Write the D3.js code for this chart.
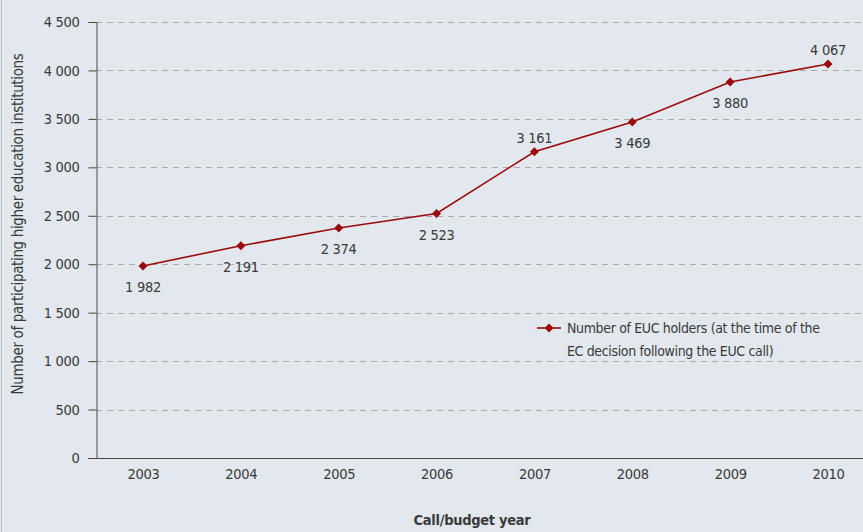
<!DOCTYPE html>
<html>
<head>
<meta charset="utf-8">
<script src="https://cdn.jsdelivr.net/npm/d3@7"></script>
<style>
  html, body { margin: 0; padding: 0; background: #e2e8ee; }
  svg { display: block; }
  text { font-family: "Liberation Sans Narrow", "DejaVu Sans Condensed", "Roboto", sans-serif; fill: #3a3a3a; }
</style>
</head>
<body>
<div id="chart"></div>
<script>
const years = ['2003', '2004', '2005', '2006', '2007', '2008', '2009', '2010'];
const holders = [1982, 2191, 2374, 2523, 3161, 3469, 3880, 4067];
const labelSide = ['below', 'below', 'below', 'below', 'above', 'below', 'below', 'above'];
const yTicks = [0, 500, 1000, 1500, 2000, 2500, 3000, 3500, 4000, 4500];
const seriesName = ['Number of EUC holders (at the time of the', 'EC decision following the EUC call)'];

const width = 863, height = 532;
const margin = { top: 22, right: 0, bottom: 74, left: 96 };

// space as thousands separator, like the original
const fmtNum = d3.formatLocale({ decimal: ',', thousands: ' ', grouping: [3], currency: ['', ''] }).format(',d');

const svg = d3.select('#chart').append('svg')
  .attr('width', width)
  .attr('height', height);

svg.append('rect')
  .attr('width', width).attr('height', height)
  .attr('fill', '#e2e8ee');

svg.append('line')
  .attr('x1', 1.5).attr('x2', 1.5).attr('y1', 0).attr('y2', height)
  .attr('stroke', '#b9bec3').attr('stroke-width', 1);

const x = d3.scalePoint()
  .domain(years)
  .range([143, 828]);

const y = d3.scaleLinear()
  .domain([0, 4500])
  .range([height - margin.bottom, margin.top]);

// gridlines
svg.append('g')
  .selectAll('line')
  .data(yTicks.filter(d => d > 0))
  .join('line')
  .attr('x1', margin.left).attr('x2', width)
  .attr('y1', d => Math.round(y(d)) + 0.5).attr('y2', d => Math.round(y(d)) + 0.5)
  .attr('stroke', '#a9acaf')
  .attr('stroke-dasharray', '6,5');

// y axis
const yAxis = svg.append('g')
  .attr('transform', `translate(${margin.left + 0.5},0)`)
  .call(d3.axisLeft(y).tickValues(yTicks).tickFormat(fmtNum).tickSize(8).tickPadding(9));
yAxis.select('.domain').attr('stroke', '#666').attr('stroke-width', 1.2);
yAxis.selectAll('.tick line').attr('stroke', '#444');
yAxis.selectAll('.tick text').attr('font-size', 14.5).attr('fill', '#3a3a3a').attr('letter-spacing', -0.3);

// x axis
const xAxis = svg.append('g')
  .attr('transform', `translate(0,${Math.round(y(0)) + 0.5})`)
  .call(d3.axisBottom(x).tickSize(0).tickPadding(10));
xAxis.select('.domain').attr('d', `M${margin.left - 8},0H${width}`).attr('stroke', '#444').attr('stroke-width', 1.2);
xAxis.selectAll('.tick text').attr('font-size', 14.5).attr('fill', '#3a3a3a').attr('letter-spacing', -0.3);

// line
const red = '#9b0a0a';
svg.append('path')
  .datum(holders)
  .attr('fill', 'none')
  .attr('stroke', red)
  .attr('stroke-width', 1.6)
  .attr('d', d3.line().x((d, i) => x(years[i])).y(d => y(d)));

const diamond = d3.symbol().type(d3.symbolDiamond2).size(52);
svg.append('g')
  .selectAll('path')
  .data(holders)
  .join('path')
  .attr('d', diamond)
  .attr('fill', red)
  .attr('transform', (d, i) => `translate(${x(years[i])},${y(d)})`);

// value labels
svg.append('g')
  .selectAll('text')
  .data(holders)
  .join('text')
  .attr('x', (d, i) => x(years[i]))
  .attr('y', (d, i) => y(d) + (labelSide[i] === 'above' ? -9 : 26))
  .attr('text-anchor', 'middle')
  .attr('font-size', 14.5)
  .attr('letter-spacing', -0.3)
  .text(d => fmtNum(d));

// legend
const lg = svg.append('g').attr('transform', 'translate(537,328)');
lg.append('line').attr('x1', 0).attr('x2', 24).attr('stroke', red).attr('stroke-width', 1.6);
lg.append('path').attr('d', diamond).attr('fill', red).attr('transform', 'translate(12,0)');
lg.append('text')
  .attr('x', 30).attr('y', 5)
  .attr('font-size', 14)
  .attr('letter-spacing', -0.35)
  .selectAll('tspan')
  .data(seriesName)
  .join('tspan')
  .attr('x', 30)
  .attr('dy', (d, i) => i === 0 ? 0 : 23)
  .text(d => d);

// axis titles
svg.append('text')
  .attr('transform', `translate(23,224) rotate(-90)`)
  .attr('text-anchor', 'middle')
  .attr('font-size', 15)
  .attr('letter-spacing', -0.35)
  .text('Number of participating higher education institutions');

svg.append('text')
  .attr('x', 472).attr('y', 525)
  .attr('text-anchor', 'middle')
  .attr('font-size', 14.5)
  .attr('font-weight', 'bold')
  .attr('letter-spacing', -0.3)
  .text('Call/budget year');
</script>
</body>
</html>
